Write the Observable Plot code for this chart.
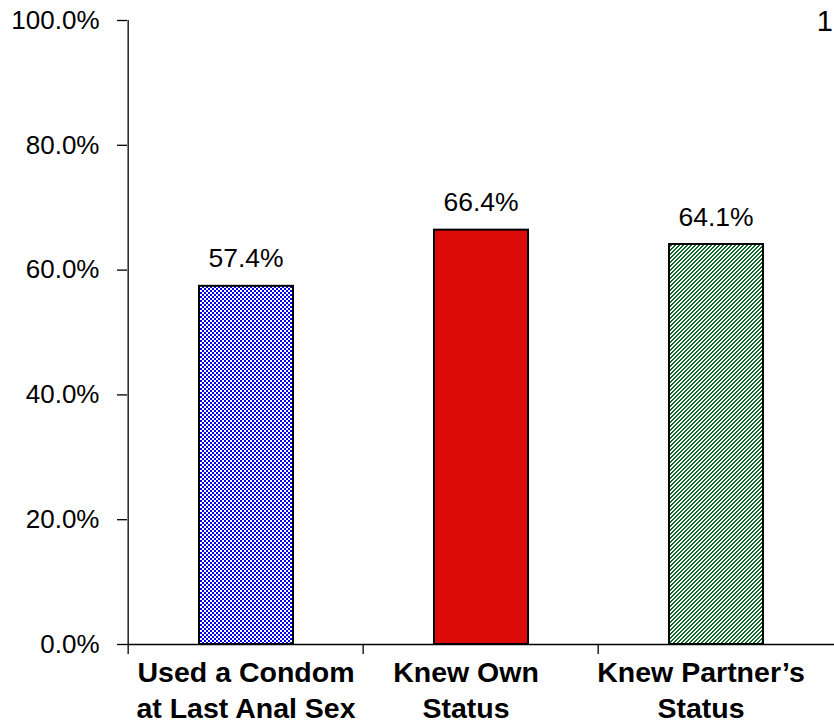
<!DOCTYPE html>
<html>
<head>
<meta charset="utf-8">
<script src="https://cdn.jsdelivr.net/npm/d3@7"></script>
<script src="https://cdn.jsdelivr.net/npm/@observablehq/plot@0.6"></script>
<style>
  html, body { margin: 0; padding: 0; background: #fff; }
  #wrap { position: relative; width: 834px; height: 720px; }
  #page { position: absolute; right: 1px; top: 7px; font: 29px/1 "Liberation Sans", Arial, sans-serif; color: #000; }
</style>
</head>
<body>
<div id="wrap"><div id="page">1</div></div>
<script>
const categories = ["Used a Condom at Last Anal Sex", "Knew Own Status", "Knew Partner's Status"];
const labels = ["Used a Condom\nat Last Anal Sex", "Knew Own\nStatus", "Knew Partner’s\nStatus"];
const values = [57.4, 66.4, 64.1];
const fills = ["url(#checker)", "#dd0a0a", "url(#stripes)"];
const yTicks = [0, 20, 40, 60, 80, 100];

const data = categories.map((c, i) => ({cat: c, label: labels[i], value: values[i], fill: fills[i]}));

const W = 834, H = 720, ML = 127, MR = 0, MT = 20, MB = 76;
const bw = (W - ML - MR) / categories.length;
const font = "Liberation Sans, Arial, sans-serif";

const svg = Plot.plot({
  width: W, height: H,
  marginLeft: ML, marginRight: MR, marginTop: MT, marginBottom: MB,
  style: {fontFamily: font, background: "white", overflow: "visible", color: "black"},
  x: {domain: categories, padding: 0, label: null},
  y: {domain: [0, 100], label: null},
  color: {type: "identity"},
  marks: [
    Plot.barY(data, {x: "cat", y: "value", fill: "fill", stroke: "black", strokeWidth: 2, insetLeft: 71, insetRight: 70}),
    Plot.ruleY([0], {stroke: "black", strokeWidth: 1.3}),
    Plot.ruleX([categories[0]], {y1: 0, y2: 100, dx: -bw / 2, stroke: "black", strokeWidth: 1.3}),
    Plot.axisY({ticks: yTicks, tickSize: 10, tickPadding: 18, tickFormat: d => d.toFixed(1) + "%", fontSize: 26, strokeWidth: 1.3, label: null}),
    Plot.axisX({tickSize: 10, tickFormat: () => "", dx: -bw / 2, strokeWidth: 1.3, label: null}),
    Plot.text(data, {x: "cat", y: "value", text: d => d.value.toFixed(1) + "%", lineAnchor: "bottom", dy: -19, fontSize: 26.5, fill: "black"}),
    Plot.text(data.slice(0, 1), {x: "cat", y: 0, text: "label", lineAnchor: "bottom", dy: 73, fontSize: 28.5, fontWeight: "bold", lineHeight: 1.23, fill: "black"}),
    Plot.text(data.slice(1), {x: "cat", y: 0, text: "label", lineAnchor: "bottom", dy: 73, dx: -15, fontSize: 28.5, fontWeight: "bold", lineHeight: 1.23, fill: "black"})
  ]
});

const defs = d3.select(svg).insert("defs", ":first-child");
const ck = defs.append("pattern").attr("id", "checker").attr("width", 4).attr("height", 4).attr("patternUnits", "userSpaceOnUse").attr("shape-rendering", "crispEdges");
ck.append("rect").attr("width", 4).attr("height", 4).attr("fill", "#ffffff");
ck.append("rect").attr("width", 2).attr("height", 2).attr("fill", "#0000f0");
ck.append("rect").attr("x", 2).attr("y", 2).attr("width", 2).attr("height", 2).attr("fill", "#0000f0");
const st = defs.append("pattern").attr("id", "stripes").attr("width", 4).attr("height", 4).attr("patternUnits", "userSpaceOnUse").attr("shape-rendering", "crispEdges");
st.append("rect").attr("width", 4).attr("height", 4).attr("fill", "#ffffff");
for (let r = 0; r < 4; r++) {
  for (let k = 0; k < 2; k++) {
    st.append("rect").attr("x", (3 - r + k + 4) % 4).attr("y", r).attr("width", 1).attr("height", 1).attr("fill", "#0e6a26");
  }
}

document.getElementById("wrap").appendChild(svg);
</script>
</body>
</html>
